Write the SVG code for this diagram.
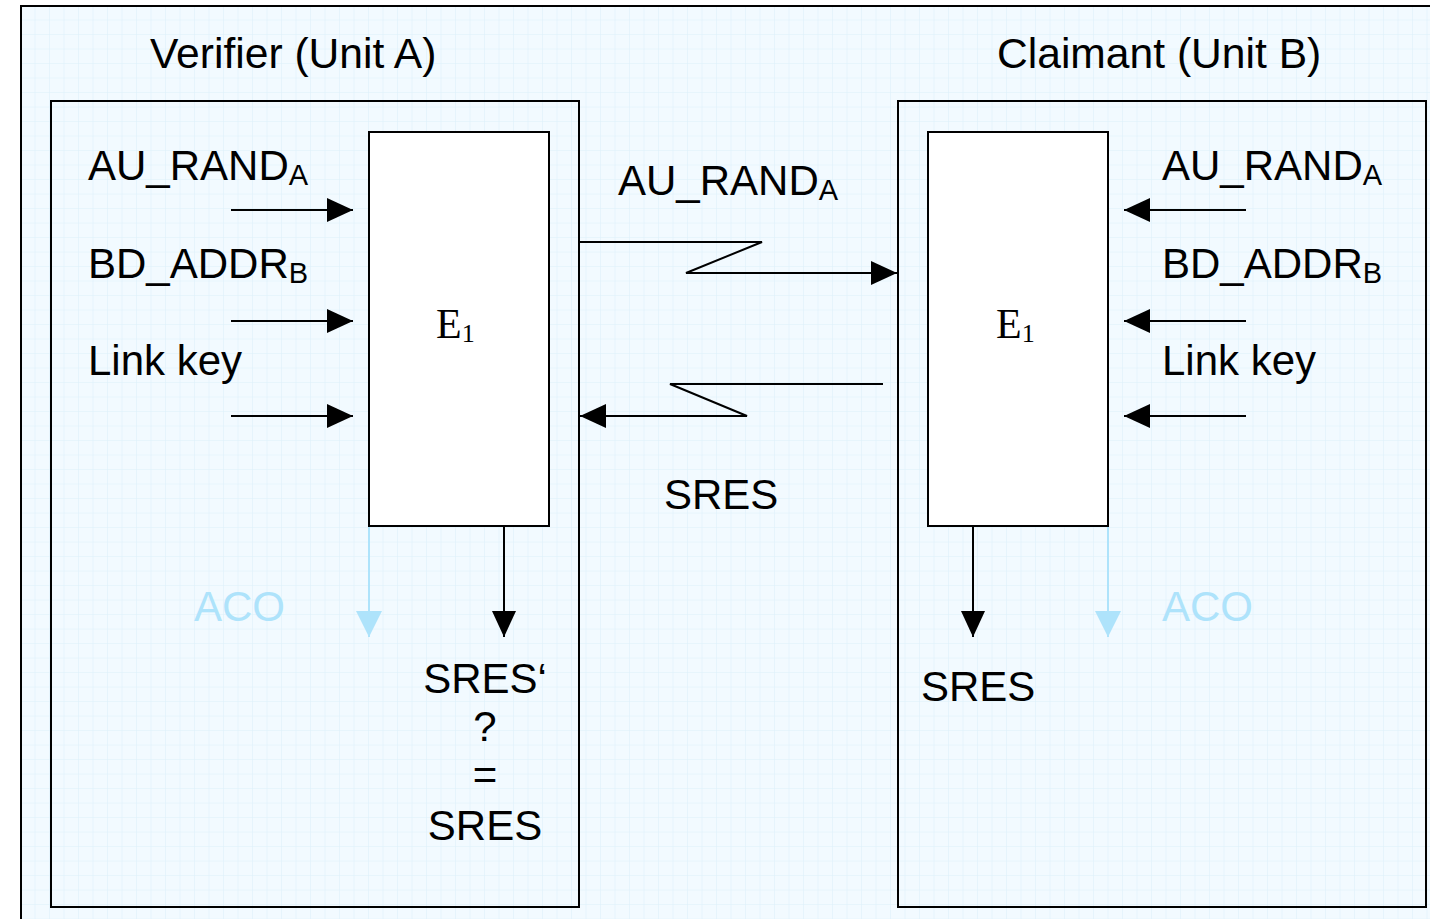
<svg xmlns="http://www.w3.org/2000/svg" width="1430" height="919" viewBox="0 0 1430 919">
<style>
text{font-family:"Liberation Sans",Arial,sans-serif;font-size:42px;fill:#000}
.t{font-size:42.6px}
.sub{font-size:29px}
.serif{font-family:"Liberation Serif","Times New Roman",serif}
.aco{fill:#aee3fb}
.box{fill:none;stroke:#000;stroke-width:2}
.e{fill:#fff;stroke:#000;stroke-width:2}
.ln{fill:none;stroke:#000;stroke-width:2}
.lb{fill:none;stroke:#aee3fb;stroke-width:2}
</style>
<defs>
<pattern id="grid" width="14.5" height="14.5" patternUnits="userSpaceOnUse" x="21" y="6">
<rect width="14.5" height="14.5" fill="#f2faff"/>
<path d="M14.5 0V14.5M0 14.5H14.5" fill="none" stroke="#dcf0fa" stroke-width="1"/>
</pattern>
<marker id="ah" markerWidth="26" markerHeight="24" refX="26" refY="12" orient="auto" markerUnits="userSpaceOnUse">
<path d="M0 0L26 12L0 24Z" fill="#000"/>
</marker>
<marker id="ahb" markerWidth="26" markerHeight="26" refX="26" refY="13" orient="auto" markerUnits="userSpaceOnUse">
<path d="M0 0L26 13L0 26Z" fill="#aee3fb"/>
</marker>
</defs>
<rect x="21" y="6" width="1420" height="930" fill="url(#grid)" stroke="#000" stroke-width="2"/>
<g id="titles">
<text class="t" x="150" y="68">Verifier (Unit A)</text>
<text class="t" x="997" y="68">Claimant (Unit B)</text>
</g>
<g id="verifier">
<rect class="box" x="51" y="101" width="528" height="806"/>
<rect class="e" x="369" y="132" width="180" height="394"/>
<text class="serif" x="436" y="338">E<tspan class="sub" dy="4" style="font-size:26px">1</tspan></text>
<text x="88" y="180">AU_RAND<tspan class="sub" dy="5">A</tspan></text>
<text x="88" y="278">BD_ADDR<tspan class="sub" dy="5">B</tspan></text>
<text x="88" y="375">Link key</text>
<text class="aco" x="194" y="621">ACO</text>
<text x="485" y="693" text-anchor="middle">SRES‘</text>
<text x="485" y="741" text-anchor="middle">?</text>
<text x="485" y="789" text-anchor="middle">=</text>
<text x="485" y="840" text-anchor="middle">SRES</text>
</g>
<g id="claimant">
<rect class="box" x="898" y="101" width="528" height="806"/>
<rect class="e" x="928" y="132" width="180" height="394"/>
<text class="serif" x="996" y="338">E<tspan class="sub" dy="4" style="font-size:26px">1</tspan></text>
<text x="1162" y="180">AU_RAND<tspan class="sub" dy="5">A</tspan></text>
<text x="1162" y="278">BD_ADDR<tspan class="sub" dy="5">B</tspan></text>
<text x="1162" y="375">Link key</text>
<text class="aco" x="1162" y="621">ACO</text>
<text x="921" y="701">SRES</text>
</g>
<g id="channel-labels">
<text x="618" y="195">AU_RAND<tspan class="sub" dy="5">A</tspan></text>
<text x="664" y="509">SRES</text>
</g>
<g id="connectors">
<path class="ln" d="M231 210H353" marker-end="url(#ah)"/>
<path class="ln" d="M231 321H353" marker-end="url(#ah)"/>
<path class="ln" d="M231 416H353" marker-end="url(#ah)"/>
<path class="ln" d="M1246 210H1124" marker-end="url(#ah)"/>
<path class="ln" d="M1246 321H1124" marker-end="url(#ah)"/>
<path class="ln" d="M1246 416H1124" marker-end="url(#ah)"/>
<path class="ln" d="M580 242H762L686 273H897" marker-end="url(#ah)"/>
<path class="ln" d="M883 384H670L747 416H580" marker-end="url(#ah)"/>
<path class="lb" d="M369 527V637" marker-end="url(#ahb)"/>
<path class="ln" d="M504 527V637" marker-end="url(#ah)"/>
<path class="ln" d="M973 527V637" marker-end="url(#ah)"/>
<path class="lb" d="M1108 527V637" marker-end="url(#ahb)"/>
</g>
</svg>
